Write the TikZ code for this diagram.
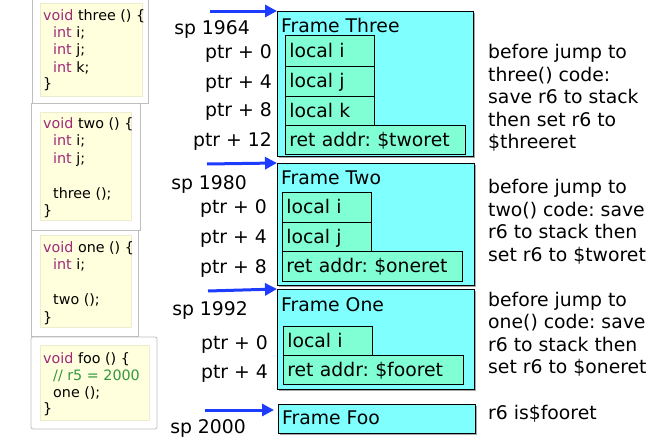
\documentclass[tikz,border=0pt]{standalone}
\usepackage{fontspec}
\setmainfont{DejaVu Sans}
\usetikzlibrary{arrows.meta,shadows}
\definecolor{framec}{RGB}{128,255,255}
\definecolor{cellc}{RGB}{128,255,212}
\definecolor{arrowc}{RGB}{30,60,255}
\definecolor{codebg}{RGB}{255,255,222}
\definecolor{kwc}{RGB}{160,40,120}
\definecolor{cmc}{RGB}{50,150,60}
\definecolor{panelc}{RGB}{190,190,190}
\newcommand{\kw}[1]{\textcolor{kwc}{#1}}
\frenchspacing
\begin{document}
\frenchspacing
\begin{tikzpicture}[x=1pt,y=-1pt,
  big/.style={font=\fontsize{18.8}{22.5}\selectfont\frenchspacing, inner sep=0pt},
  lbl/.style={big, anchor=base east},
  note/.style={big, anchor=base west},
  code/.style={font=\fontsize{14.3}{17}\selectfont\frenchspacing, inner sep=0pt, anchor=base west},
  panel/.style={draw=panelc, fill=white, line width=0.8pt},
  codebox/.style={fill=codebg, draw=codebg!85!gray, line width=0.3pt},
  frame/.style={draw=black, fill=framec, line width=0.8pt, inner sep=0pt, anchor=north west,
    drop shadow={shadow xshift=1.5pt, shadow yshift=-1.5pt, fill=black, opacity=0.35}},
  cell/.style={draw=black, fill=cellc, line width=0.7pt, big, anchor=north west,
    inner xsep=4pt, inner ysep=0pt, align=left, text height=14pt, text depth=1pt},
  title/.style={big, anchor=base west},
  sparrow/.style={draw=arrowc, line width=3pt, -{Triangle[length=12pt,width=12pt]}}
]
\clip (0,0) rectangle (649,442);
\useasboundingbox (0,0) rectangle (649,442);

% ---------- code panels ----------
\draw[panel] (32,-5) rectangle (148,103);
\draw[codebox] (40,3) rectangle (142,96);
\node[code] (c1a) at (43,20) {\kw{void} three () \{};
\node[code] (c1b) at (53,37) {\kw{int} i;};
\node[code] (c1c) at (53,54.5) {\kw{int} j;};
\node[code] (c1d) at (53,72) {\kw{int} k;};
\node[code] (c1e) at (43,88) {\}};

\draw[panel] (31,103) rectangle (140,230);
\draw[codebox] (40,112) rectangle (131,220);
\node[code] (c2a) at (43,128) {\kw{void} two () \{};
\node[code] (c2b) at (53,145.5) {\kw{int} i;};
\node[code] (c2c) at (53,163) {\kw{int} j;};
\node[code] (c2d) at (53,198) {three ();};
\node[code] (c2e) at (43,215.5) {\}};

\draw[panel] (31,230) rectangle (138,336);
\draw[codebox] (40,235) rectangle (131,327);
\node[code] (c3a) at (43,252) {\kw{void} one () \{};
\node[code] (c3b) at (53,269.5) {\kw{int} i;};
\node[code] (c3c) at (53,304.5) {two ();};
\node[code] (c3d) at (43,322) {\}};

\draw[panel, rounded corners=2pt] (31,337) rectangle (157,429);
\draw[codebox] (40,345) rectangle (149,420);
\node[code] (c4a) at (43,363) {\kw{void} foo () \{};
\node[code] (c4b) at (53,380) {\textcolor{cmc}{// r5 = 2000}};
\node[code] (c4c) at (53,397) {one ();};
\node[code] (c4d) at (43,413) {\}};

% ---------- Frame Three ----------
\node[frame, minimum width=196pt, minimum height=145pt] (F3) at (277,11) {};
\node[title] (F3t) at (281,32.5) {Frame Three};
\node[cell, text width=81pt, minimum height=31pt] (F3i) at (285,35) {local i};
\node[cell, text width=81pt, minimum height=30pt] (F3j) at (285,66) {local j};
\node[cell, text width=81pt, minimum height=29pt] (F3k) at (285,96) {local k};
\node[cell, text width=172pt, minimum height=29pt] (F3r) at (285,125) {ret addr: \$tworet};

% ---------- Frame Two ----------
\node[frame, minimum width=197pt, minimum height=122pt] (F2) at (277,163) {};
\node[title] (F2t) at (281,184.5) {Frame Two};
\node[cell, text width=81pt, minimum height=30pt] (F2i) at (282,192) {local i};
\node[cell, text width=81pt, minimum height=29pt] (F2j) at (282,222) {local j};
\node[cell, text width=172pt, minimum height=30pt] (F2r) at (282,251) {ret addr: \$oneret};

% ---------- Frame One ----------
\node[frame, minimum width=197pt, minimum height=100pt] (F1) at (277,289) {};
\node[title] (F1t) at (281,311.5) {Frame One};
\node[cell, text width=81pt, minimum height=29pt] (F1i) at (283,326) {local i};
\node[cell, text width=172pt, minimum height=29pt] (F1r) at (283,355) {ret addr: \$fooret};

% ---------- Frame Foo ----------
\node[frame, minimum width=197pt, minimum height=29pt] (F0) at (278,404) {};
\node[title] (F0t) at (282,424.5) {Frame Foo};

% ---------- stack pointer arrows ----------
\coordinate (a3) at (210,11);
\coordinate (a2) at (207,164);
\coordinate (a1) at (208,291);
\coordinate (a0) at (205,410);
\coordinate (e0) at (274,410);
\draw[sparrow] (a3) -- (F3.north west);
\draw[sparrow] (a2) -- (F2.north west);
\draw[sparrow] (a1) -- (F1.north west);
\draw[sparrow] (a0) -- (e0);

% ---------- left labels ----------
\node[lbl] (sp3) at (250,34.5) {sp 1964};
\node[lbl] (p30) at (272,58.5) {ptr + 0};
\node[lbl] (p34) at (272,88.5) {ptr + 4};
\node[lbl] (p38) at (272,116.5) {ptr + 8};
\node[lbl] (p312) at (272,146.5) {ptr + 12};

\node[lbl] (sp2) at (247,189.5) {sp 1980};
\node[lbl] (p20) at (267,213.5) {ptr + 0};
\node[lbl] (p24) at (267,243.5) {ptr + 4};
\node[lbl] (p28) at (267,273.5) {ptr + 8};

\node[lbl] (sp1) at (248,315.5) {sp 1992};
\node[lbl] (p10) at (268,349.5) {ptr + 0};
\node[lbl] (p14) at (268,378.5) {ptr + 4};

\node[lbl] (sp0) at (246,433.5) {sp 2000};

% ---------- notes ----------
\node[note] (n3a) at (488,58.5) {before jump to};
\node[note] (n3b) at (488,81.5) {three() code:};
\node[note] (n3c) at (488,103.5) {save r6 to stack};
\node[note] (n3d) at (488,126.5) {then set r6 to};
\node[note] (n3e) at (488,148.5) {\$threeret};

\node[note] (n2a) at (488,193.5) {before jump to};
\node[note] (n2b) at (488,216.5) {two() code: save};
\node[note] (n2c) at (488,238.5) {r6 to stack then};
\node[note] (n2d) at (488,261.5) {set r6 to \$tworet};

\node[note] (n1a) at (488,306.5) {before jump to};
\node[note] (n1b) at (488,328.5) {one() code: save};
\node[note] (n1c) at (488,351.5) {r6 to stack then};
\node[note] (n1d) at (488,373.5) {set r6 to \$oneret};

\node[note] (n0) at (488,419.5) {r6 is\$fooret};
\end{tikzpicture}
\end{document}
